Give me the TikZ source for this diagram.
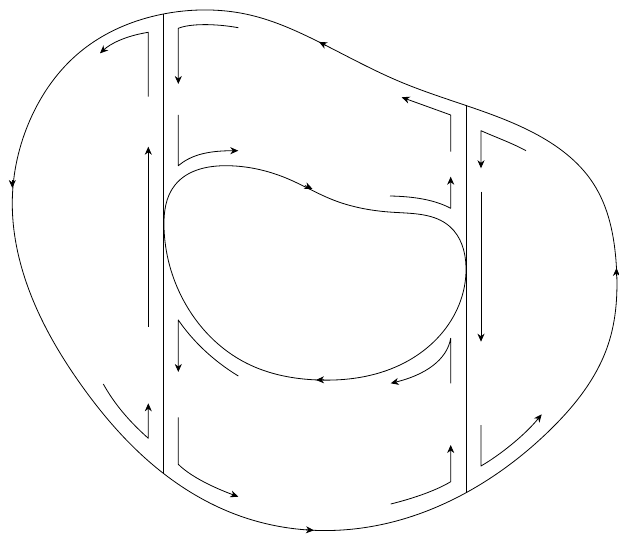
\documentclass[tikz,border=0pt]{standalone}
\usetikzlibrary{arrows.meta,hobby}
\begin{document}
\begin{tikzpicture}[x=1pt,y=-1pt,line width=0.8pt,line join=round,
  tip/.style={-{Stealth[length=8pt,width=7pt,inset=2.5pt]}}]
\useasboundingbox (0,0) rectangle (619,535);
% outer closed curve
\draw[use Hobby shortcut,closed=true]
 (163.3,14) .. (80,52) .. (30,120) .. (12.3,200) .. (29,290) .. (80,383.3)
 .. (163.3,473.3) .. (240,516) .. (320,530.5) .. (400,520) .. (465,493.3)
 .. (550,430) .. (608,345) .. (616.3,265) .. (593,183) .. (533,132.5)
 .. (466,105.5) .. (400,81.7) .. (320,42.5) .. (250,15) .. (200,10);
% inner closed curve
\draw[use Hobby shortcut,closed=true]
 (164,228) .. (175,185) .. (226.7,165.7) .. (286.7,178.3) .. (333.3,200)
 .. (393.3,212.3) .. (450,226.7) .. (466,266.7) .. (453.3,316.7)
 .. (400,365) .. (318.3,380) .. (246.7,363.3) .. (183.3,300);
% arrowheads on the closed curves
\draw[tip] (326,45.5) -- (319,41.9);
\draw[tip] (12.3,180) -- (12.3,188);
\draw[tip] (306,529.8) -- (314,530.3);
\draw[tip] (616.4,276) -- (616.5,268);
\draw[tip] (305,185.6) -- (312.5,188.9);
\draw[tip] (324,379.8) -- (316,380);
% vertical lines
\coordinate (L1) at (163.3,14);  \coordinate (L2) at (163.3,473.3);
\coordinate (R1) at (466,105.5); \coordinate (R2) at (466,492.9);
\draw (L1) -- (L2);
\draw (R1) -- (R2);
% fragments along the left line
\draw[tip] (148.3,96.7) -- (148.3,32.3) .. controls (125,36) and (110,44) .. (100,53.3);
\draw[tip] (238.3,27.7) .. controls (215,23.5) and (190,23.5) .. (178.3,28.3) -- (178.3,84);
\draw[tip] (178.3,115) -- (178.3,165.7) .. controls (190,156) and (205,150.7) .. (238.3,150.7);
\draw[tip] (148.3,326.7) -- (148.3,146.7);
\draw[tip] (103.3,384) .. controls (115,405) and (130,422) .. (148.3,438.3) -- (148.3,403.3);
\draw[tip] (238.3,376) .. controls (212,360) and (192,340) .. (178.3,320) -- (178.3,372);
\draw[tip] (178.3,417.3) -- (178.3,464.3) .. controls (190,476) and (212,487) .. (238.3,496.7);
% fragments along the right line
\draw[tip] (450.7,151.7) -- (450.7,115) -- (401.7,97.3);
\draw[tip] (390,196) .. controls (415,196.5) and (435,200) .. (450.7,208.3) -- (450.7,176.7);
\draw[tip] (526,150.7) .. controls (512,143) and (495,137) .. (481,130.7) -- (481,168.3);
\draw[tip] (481,191.7) -- (481,341.7);
\draw[tip] (450.7,383.3) -- (450.7,338.3) .. controls (447,360) and (425,375) .. (390.7,383.3);
\draw[tip] (481,425) -- (481,466) .. controls (500,455) and (525,435) .. (541.7,414.3);
\draw[tip] (390.7,504) .. controls (415,498) and (437,490) .. (450.7,481.7) -- (450.7,445);
\end{tikzpicture}
\end{document}
